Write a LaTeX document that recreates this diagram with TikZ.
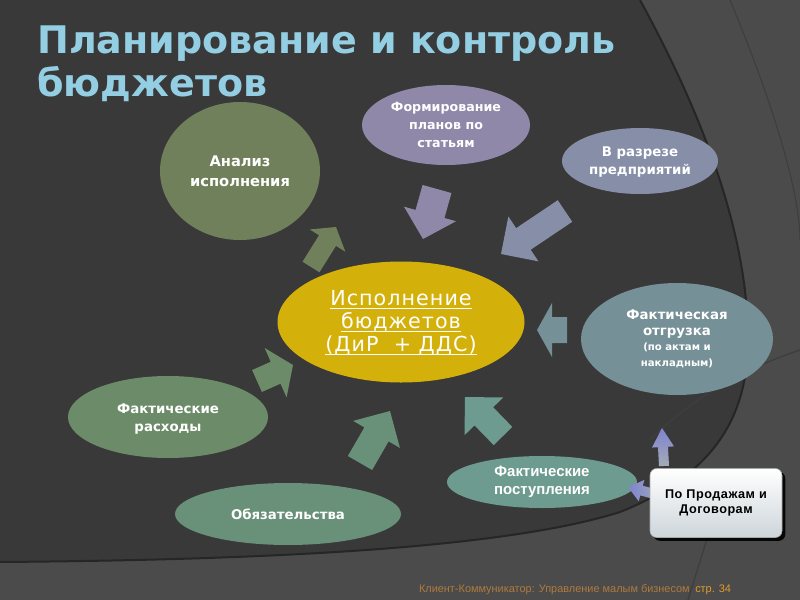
\documentclass[tikz,border=0pt]{standalone}
\usepackage{fontspec}
\setmainfont{DejaVu Sans}
\newfontfamily\arialf{Liberation Sans}
\newfontfamily\boxfont[LetterSpace=4]{Liberation Sans}
\newfontfamily\ctrfont[LetterSpace=5]{DejaVu Sans}
\usetikzlibrary{shapes.geometric,calc,shadows}

\newcommand\myul[1]{\leavevmode\setbox0\hbox{#1}\rlap{\copy0}\rule[-2.6pt]{\wd0}{0.9pt}}

\definecolor{bgdark}{HTML}{393939}
\definecolor{bgout}{HTML}{4B4B4B}
\definecolor{bgedge}{HTML}{262626}
\definecolor{bgline}{HTML}{3E3E3E}
\definecolor{cTitle}{HTML}{93CEE3}
\definecolor{cAn}{HTML}{70805A}
\definecolor{cFo}{HTML}{8F88A8}
\definecolor{cRa}{HTML}{878FA8}
\definecolor{cCe}{HTML}{D3B10A}
\definecolor{cOt}{HTML}{769098}
\definecolor{cRs}{HTML}{6C8C69}
\definecolor{cOb}{HTML}{699078}
\definecolor{cPo}{HTML}{6E9B8F}
\definecolor{cBlA}{HTML}{7F84D0}
\definecolor{cBlB}{HTML}{A3ABB6}
\definecolor{cBoxB}{HTML}{CDD5DA}
\definecolor{cFoot}{HTML}{B07A3E}
\definecolor{cPage}{HTML}{E09A2C}

% block arrow: #1 name, #2 fill options, #3 tail, #4 tip, #5 shaft half width, #6 head half width, #7 head length (px)
\newcommand\barrow[7]{%
  \coordinate (#1T) at (#3);
  \coordinate (#1P) at (#4);
  \coordinate (#1H) at ($(#1P)!#7*0.75pt!(#1T)$);
  \path[#2] ($(#1T)!#5*0.75pt!90:(#1P)$) -- ($(#1H)!#5*0.75pt!90:(#1P)$)
    -- ($(#1H)!#6*0.75pt!90:(#1P)$) -- (#1P) -- ($(#1H)!#6*0.75pt!-90:(#1P)$)
    -- ($(#1H)!#5*0.75pt!-90:(#1P)$) -- ($(#1T)!#5*0.75pt!-90:(#1P)$) -- cycle;
}

\begin{document}
\begin{tikzpicture}[x=0.75pt,y=-0.75pt,
  ell/.style={ellipse, inner sep=0pt, draw=none},
  lbl/.style={text=white, align=center, inner sep=0pt},
  title/.style={text=cTitle, inner sep=0pt, font=\bfseries\fontsize{28.5}{32}\selectfont},
  ppbox/.style={rounded corners=5pt, minimum width=99pt, minimum height=51.75pt,
    draw=gray!70, top color=white, bottom color=cBoxB, align=center, text=black,
    drop shadow={shadow xshift=2.5pt, shadow yshift=-2.5pt, fill=black, opacity=0.9},
    font=\boxfont\bfseries\fontsize{9.5}{11.25}\selectfont}]
\useasboundingbox (0,0) rectangle (800,600);

% background
\fill[bgout] (0,0) rectangle (800,600);
\fill[bgdark] (0,0) -- (640,0) .. controls (700,110) and (748,230) .. (748,340)
  .. controls (748,430) and (700,480) .. (620,512)
  .. controls (500,550) and (250,560) .. (0,562) -- cycle;
\draw[bgedge, line width=1.5pt] (640,0) .. controls (700,110) and (748,230) .. (748,340)
  .. controls (748,430) and (700,480) .. (620,512)
  .. controls (500,550) and (250,560) .. (0,562);
\draw[bgline, line width=1pt] (800,350) .. controls (740,370) and (690,400) .. (650,440);
\draw[bgline, line width=1pt] (688,600) .. controls (700,560) and (712,530) .. (722,470);
\draw[bgline, line width=0.8pt] (730,0) .. controls (780,120) and (800,200) .. (800,240);

% title
\node[title, anchor=base west] (ttl1) at (37,53) {Планирование и контроль};
\node[title, anchor=base west] (ttl2) at (37,96) {бюджетов};

% ellipses
\node[ell, fill=cAn, minimum width=120pt, minimum height=103.5pt] (an) at (240,171) {};
\node[ell, fill=cFo, minimum width=126pt, minimum height=60pt] (fo) at (446,125) {};
\node[ell, fill=cRa, minimum width=117pt, minimum height=49.5pt] (ra) at (640,161) {};
\node[ell, fill=cCe, minimum width=185.25pt, minimum height=90.75pt] (ce) at (401,322) {};
\node[ell, fill=cOt, minimum width=144pt, minimum height=84pt] (ot) at (677,339) {};
\node[ell, fill=cRs, minimum width=150pt, minimum height=61.5pt] (rs) at (168,417) {};
\node[ell, fill=cOb, minimum width=169.5pt, minimum height=46.5pt] (ob) at (288,514) {};
\node[ell, fill=cPo, minimum width=142.5pt, minimum height=39pt] (po) at (542,482) {};

% labels
\node[lbl, font=\bfseries\fontsize{11}{15}\selectfont] (an-t) at (240,171) {Анализ\\исполнения};
\node[lbl, font=\bfseries\fontsize{9.5}{13.5}\selectfont] (fo-t) at (446,125) {Формирование\\планов по\\статьям};
\node[lbl, font=\bfseries\fontsize{10}{13.5}\selectfont] (ra-t) at (640,162) {В разрезе\\предприятий};
\node[lbl, font=\ctrfont\fontsize{15.5}{17.25}\selectfont] (ce-t) at (401,323) {\myul{Исполнение}\\\myul{бюджетов}\\\myul{(ДиР~ + ДДС)}};
\node[lbl, font=\bfseries\fontsize{10}{12}\selectfont] (ot-t) at (677,339)
  {Фактическая\\отгрузка\\[-1pt]{\fontsize{7.6}{10.5}\selectfont (по актам и}\\{\fontsize{7.6}{10.5}\selectfont накладным)}};
\node[lbl, font=\bfseries\fontsize{10}{13.5}\selectfont] (rs-t) at (168,419) {Фактические\\расходы};
\node[lbl, font=\bfseries\fontsize{10}{13.5}\selectfont] (ob-t) at (288,514) {Обязательства};
\node[lbl, font=\arialf\bfseries\fontsize{11.2}{13.5}\selectfont] (po-t) at (542,482) {Фактические\\поступления};

% block arrows
\barrow{a1}{fill=cAn}{311,267}{336,227}{10}{21}{16}
\barrow{a2}{fill=cFo}{437,189}{423,239}{15}{27}{26}
\barrow{a3}{fill=cRa}{565,211}{501,254}{13}{27}{27}
\barrow{a4}{fill=cOt}{567,330}{537,330}{13}{27}{15}
\barrow{a5}{fill=cRs}{257,381}{293,365}{12}{27}{19}
\barrow{a6}{fill=cOb}{360,463}{390,411}{14}{27}{27}
\barrow{a7}{fill=cPo}{503,436}{465,397}{13}{27}{27}
\barrow{a8}{top color=cBlA, bottom color=cBlB}{664,466}{662,428}{5}{11}{19}
\barrow{a9}{left color=cBlA, right color=cBlB}{662,496}{628,487}{5}{11}{14}

% box
\node[ppbox] (pp) at (716,503) {По Продажам и\\Договорам};

% footer
\node[anchor=base east, inner sep=0pt, text=cFoot, font=\arialf\fontsize{8.2}{10}\selectfont] (ft1) at (690,592) {Клиент-Коммуникатор: Управление малым бизнесом};
\node[anchor=base west, inner sep=0pt, text=cPage, font=\arialf\fontsize{8.2}{10}\selectfont] (ft2) at (695,592) {стр. 34};
\end{tikzpicture}
\end{document}
